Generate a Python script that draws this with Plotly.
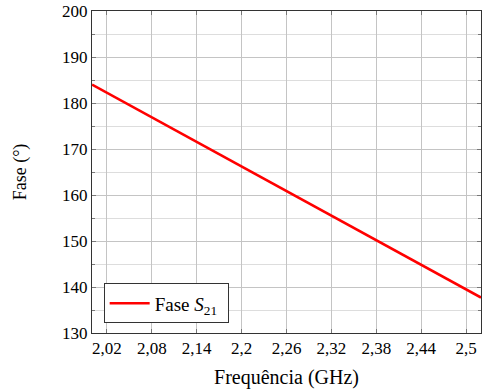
import plotly.graph_objects as go

freq_ghz = [2.00, 2.08, 2.14, 2.20, 2.26, 2.32, 2.38, 2.44, 2.52]
fase_s21 = [184.0, 176.9, 171.6, 166.2, 160.9, 155.5, 150.2, 144.9, 137.7]

x_tickvals = [2.02, 2.08, 2.14, 2.20, 2.26, 2.32, 2.38, 2.44, 2.50]
x_ticktext = ["2,02", "2,08", "2,14", "2,2", "2,26", "2,32", "2,38", "2,44", "2,5"]
y_tickvals = [130, 140, 150, 160, 170, 180, 190, 200]
y_ticktext = ["130", "140", "150", "160", "170", "180", "190", "200"]
y_minorvals = [135, 145, 155, 165, 175, 185, 195]

font_family = "Liberation Serif"

fig = go.Figure()
fig.add_trace(go.Scatter(
    x=freq_ghz, y=fase_s21, mode="lines",
    line=dict(color="#ff0000", width=2.6),
    name="Fase <i>S</i><sub>21</sub> ",
))

fig.update_layout(
    template="none",
    width=489, height=392,
    margin=dict(l=92, r=8, t=11, b=59),
    paper_bgcolor="white", plot_bgcolor="white",
    font=dict(family=font_family, size=17, color="black"),
    showlegend=True,
    legend=dict(
        x=0.03, y=0.03, xanchor="left", yanchor="bottom",
        bgcolor="white", bordercolor="#333333", borderwidth=1,
        font=dict(family=font_family, size=19),
        itemwidth=40,
    ),
)

fig.update_xaxes(
    range=[2.0, 2.52],
    tickmode="array", tickvals=x_tickvals, ticktext=x_ticktext,
    showgrid=True, gridcolor="#c4c4c4", gridwidth=1,
    showline=True, linecolor="#333333", linewidth=1, mirror="allticks",
    ticks="inside", ticklen=4, tickcolor="#777777",
    zeroline=False,
    title=dict(text="Frequência (GHz)", standoff=12,
               font=dict(family=font_family, size=20)),
    tickfont=dict(family=font_family, size=17, color="black"),
)

fig.update_yaxes(
    range=[130, 200],
    tickmode="array", tickvals=y_tickvals, ticktext=y_ticktext,
    showgrid=True, gridcolor="#c4c4c4", gridwidth=1,
    minor=dict(tickmode="array", tickvals=y_minorvals, showgrid=True,
               gridcolor="#dddddd", gridwidth=1, ticks="inside",
               ticklen=3, tickcolor="#777777"),
    showline=True, linecolor="#333333", linewidth=1, mirror="allticks",
    ticks="inside", ticklen=4, tickcolor="#777777",
    zeroline=False,
    title=dict(text="Fase (°)", standoff=30,
               font=dict(family=font_family, size=18)),
    tickfont=dict(family=font_family, size=17, color="black"),
)

fig.write_html("out.html")
